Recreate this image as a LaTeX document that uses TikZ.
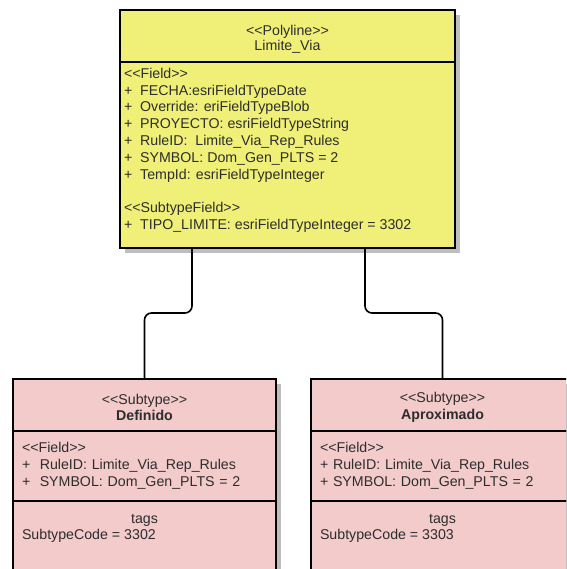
\documentclass[tikz,border=0pt]{standalone}
\usepackage{fontspec}
\setmainfont{Liberation Sans}[Ligatures=TeXOff]
\usetikzlibrary{positioning,backgrounds}
\definecolor{polyfill}{RGB}{240,240,120}
\definecolor{subfill}{RGB}{243,203,203}
\definecolor{shadowgray}{RGB}{190,190,190}
\definecolor{textgray}{RGB}{45,45,45}

\begin{document}
\begin{tikzpicture}[x=1pt, y=1pt,
    part/.style={draw, line width=2pt, outer sep=0pt, inner xsep=4pt, inner ysep=0pt,
      text=textgray, font=\fontsize{14.2}{16.8}\selectfont},
    head/.style={part, align=center, minimum height=52pt, text width=#1},
    fields/.style={part, align=left, minimum height=70pt, inner xsep=9pt, text width=245pt},
    conn/.style={line width=1.6pt, rounded corners=7pt}
    ]
    \useasboundingbox (0,0) rectangle (566,-569);
    \clip (0,0) rectangle (566,-569);
    \node[head=327pt, fill=polyfill, anchor=north west] (polyhead) at (120,-10)
      {\rule{0pt}{17pt}<<Polyline>>\\[-1pt]Limite\_Via};
    \node[part, fill=polyfill, inner ysep=6pt, below=0pt of polyhead] (polybody)
      {\parbox[t][174pt][t]{327pt}{<<Field>>\\
        +\ \ FECHA:esriFieldTypeDate\\
        +\ \ Override: eriFieldTypeBlob\\
        +\ \ PROYECTO: esriFieldTypeString\\
        +\ \ RuleID:\ \ Limite\_Via\_Rep\_Rules\\
        +\ \ SYMBOL: Dom\_Gen\_PLTS = 2\\
        +\ \ TempId: esriFieldTypeInteger\\[16.8pt]
        <<SubtypeField>>\\
        +\ \ TIPO\_LIMITE: esriFieldTypeInteger = 3302}};

    \node[head=245pt, inner xsep=9pt, fill=subfill, below=131pt of polybody.south, xshift=-143pt] (defhead)
      {\rule{0pt}{15pt}<<Subtype>>\\\textbf{Definido}};
    \node[fields, fill=subfill, below=0pt of defhead] (deffield)
      {<<Field>>\\+\ \ RuleID: Limite\_Via\_Rep\_Rules\\+\ \ SYMBOL: Dom\_Gen\_PLTS = 2};
    \node[part, fill=subfill, inner xsep=9pt, inner ysep=13pt, below=0pt of deffield] (deftags)
      {\parbox[t][90pt][t]{245pt}{\makebox[245pt]{tags}\\SubtypeCode = 3302}};

    \node[head=245pt, inner xsep=9pt, fill=subfill, below=131pt of polybody.south, xshift=155pt] (aprhead)
      {\rule{0pt}{15pt}<<Subtype>>\\\textbf{Aproximado}};
    \node[fields, fill=subfill, below=0pt of aprhead] (aprfield)
      {<<Field>>\\+\ RuleID: Limite\_Via\_Rep\_Rules\\+\ SYMBOL: Dom\_Gen\_PLTS = 2};
    \node[part, fill=subfill, inner xsep=9pt, inner ysep=13pt, below=0pt of aprfield] (aprtags)
      {\parbox[t][90pt][t]{245pt}{\makebox[245pt]{tags}\\SubtypeCode = 3303}};

    \begin{scope}[on background layer]
      \fill[shadowgray] ([shift={(5,-5)}]polyhead.north west) rectangle ([shift={(5,-5)}]polybody.south east);
      \fill[shadowgray] ([shift={(5,-5)}]defhead.north west) rectangle ([shift={(5,-5)}]deftags.south east);
      \fill[shadowgray] ([shift={(5,-5)}]aprhead.north west) rectangle ([shift={(5,-5)}]aprtags.south east);
    \end{scope}

    \draw[conn] ([xshift=-95.5]polybody.south) -- ++(0,-65) -| (defhead.north);
    \draw[conn] ([xshift=77.5]polybody.south) -- ++(0,-65) -| (aprhead.north);
\end{tikzpicture}
\end{document}
